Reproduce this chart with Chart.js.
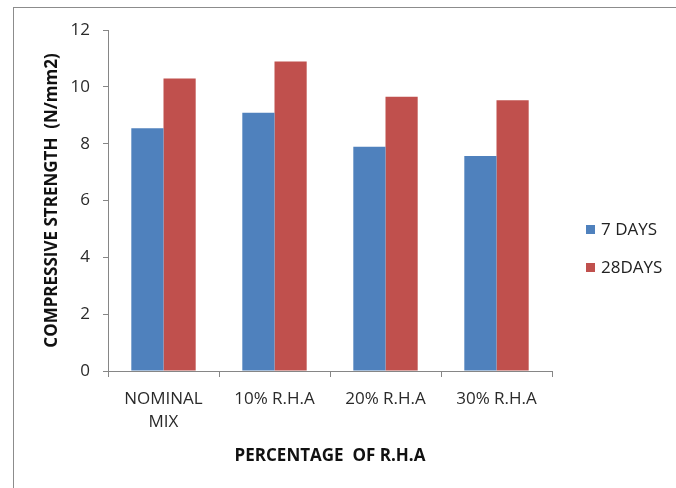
<!DOCTYPE html>
<html>
<head>
<meta charset="utf-8">
<script src="https://cdn.jsdelivr.net/npm/chart.js@4.4.1/dist/chart.umd.min.js"></script>
<style>
    html, body { margin: 0; padding: 0; background: #fff; }
    #wrap { position: relative; width: 676px; height: 488px; }
    /* thin outer frame, only top and left edges show in the picture */
    #frame { position: absolute; left: 13px; top: 7px; right: -4px; bottom: -4px;
             border-top: 1px solid #8c8c8c; border-left: 1px solid #8c8c8c; }
    canvas { position: absolute; left: 0; top: 0; }
</style>
</head>
<body>
<div id="wrap">
    <div id="frame"></div>
    <canvas id="chart" width="676" height="488"></canvas>
</div>
<script>
// Data
const categories = [['NOMINAL', 'MIX'], '10% R.H.A', '20% R.H.A', '30% R.H.A'];
const days7 = [8.54, 9.09, 7.89, 7.57];
const days28 = [10.29, 10.89, 9.65, 9.53];
const seriesNames = ['7 DAYS', '28DAYS'];
const yTicks = [0, 2, 4, 6, 8, 10, 12];

const fontName = '"Open Sans", Lato, sans-serif';
const axisColor = '#868686';

// Legend drawn to the right of the plot, like the Excel original
const sideLegend = {
    id: 'sideLegend',
    afterDraw(chart) {
        let ctx = chart.ctx;
        let x = chart.chartArea.right + 34;
        let y = 230;
        ctx.save();
        ctx.font = '17px ' + fontName;
        ctx.textBaseline = 'middle';
        chart.data.datasets.forEach((ds, i) => {
            let cy = y + i * 38;
            ctx.fillStyle = ds.backgroundColor;
            ctx.fillRect(x, cy - 5, 9, 9);
            ctx.fillStyle = '#222';
            ctx.fillText(ds.label, x + 15, cy);
        });
        ctx.restore();
    }
};

new Chart(document.getElementById('chart'), {
    type: 'bar',
    data: {
        labels: categories,
        datasets: [
            { label: seriesNames[0], data: days7, backgroundColor: '#4F81BD' },
            { label: seriesNames[1], data: days28, backgroundColor: '#C0504D' }
        ]
    },
    options: {
        responsive: false,
        animation: false,
        devicePixelRatio: 1,
        categoryPercentage: 0.58,
        barPercentage: 1.0,
        layout: {
            padding: { left: 38, right: 124, top: 30, bottom: 22 }
        },
        plugins: {
            legend: { display: false },
            tooltip: { enabled: false }
        },
        scales: {
            x: {
                afterFit(scale) {
                    scale.height = 95;
                },
                grid: {
                    offset: true,
                    drawOnChartArea: false,
                    tickLength: 6,
                    color: axisColor
                },
                border: { display: true, color: axisColor },
                ticks: {
                    color: '#2a2a2a',
                    padding: 11,
                    maxRotation: 0,
                    font: { family: fontName, size: 17, lineHeight: 1.35 }
                },
                title: {
                    display: true,
                    text: 'PERCENTAGE  OF R.H.A',
                    color: '#111',
                    padding: { top: 10, bottom: 0 },
                    font: { family: fontName, size: 17, weight: 'bold' }
                }
            },
            y: {
                min: 0,
                max: 12,
                afterBuildTicks(scale) {
                    scale.ticks = yTicks.map(v => ({ value: v }));
                },
                afterFit(scale) {
                    scale.width = 70;
                },
                grid: {
                    drawOnChartArea: false,
                    tickLength: 5,
                    color: axisColor
                },
                border: { display: true, color: axisColor },
                ticks: {
                    color: '#2a2a2a',
                    padding: 13,
                    font: { family: fontName, size: 17 }
                },
                title: {
                    display: true,
                    text: 'COMPRESSIVE STRENGTH  (N/mm2)',
                    color: '#111',
                    padding: { top: 4, bottom: 0 },
                    font: { family: fontName, size: 17, weight: 'bold' }
                }
            }
        }
    },
    plugins: [sideLegend]
});
</script>
</body>
</html>
